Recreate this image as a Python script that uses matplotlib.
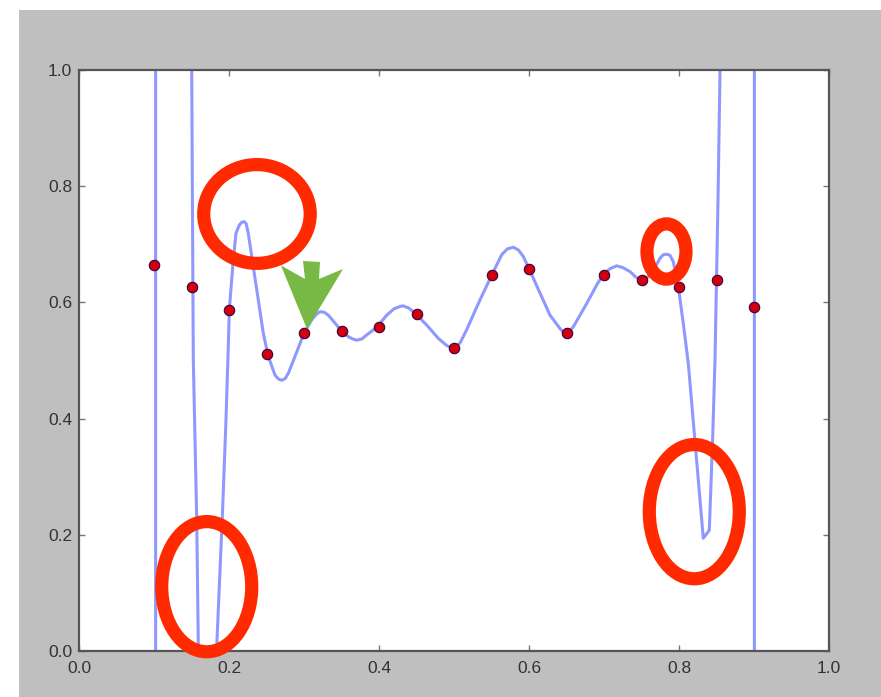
import matplotlib
matplotlib.use("Agg")
import matplotlib.pyplot as plt
from matplotlib.patches import Ellipse, Polygon, Rectangle

# sample points (red dots)
point_x = [0.10, 0.15, 0.20, 0.25, 0.30, 0.35, 0.40, 0.45, 0.50,
           0.55, 0.60, 0.65, 0.70, 0.75, 0.80, 0.85, 0.90]
point_y = [0.664, 0.626, 0.587, 0.512, 0.547, 0.550, 0.557, 0.580, 0.521,
           0.647, 0.657, 0.548, 0.647, 0.639, 0.627, 0.639, 0.592]

# fitted curve (values past 0 / 1 run off the axes)
curve_x = [0.1022, 0.1022, 0.148, 0.1503, 0.1524, 0.1569, 0.1591, 0.160, 0.181,
           0.1836, 0.1911, 0.196, 0.1993, 0.2004, 0.2057, 0.2093, 0.2137, 0.217,
           0.2204, 0.223, 0.2257, 0.2324, 0.2391, 0.2457, 0.2524, 0.2613, 0.266,
           0.2703, 0.275, 0.2791, 0.2880, 0.3000, 0.3103, 0.316, 0.3213, 0.327,
           0.3324, 0.3436, 0.3503, 0.3591, 0.365, 0.3703, 0.377, 0.3836, 0.3969,
           0.4103, 0.420, 0.4280, 0.4324, 0.440, 0.4493, 0.4636, 0.4791, 0.490,
           0.4991, 0.508, 0.5169, 0.5324, 0.5503, 0.5636, 0.571, 0.5791, 0.586,
           0.5924, 0.6004, 0.6147, 0.6280, 0.6413, 0.645, 0.6493, 0.654, 0.6591,
           0.6680, 0.6769, 0.6903, 0.6983, 0.708, 0.7169, 0.725, 0.7347, 0.742,
           0.7489, 0.756, 0.7636, 0.7747, 0.779, 0.7836, 0.788, 0.7924, 0.7991,
           0.8057, 0.8124, 0.8324, 0.8404, 0.8449, 0.8480, 0.8520, 0.8547, 0.857,
           0.9005, 0.9005]
curve_y = [-0.5, 1.5, 1.5, 0.999, 0.501, 0.231, 0.007, -0.5, -0.5,
           0.007, 0.231, 0.398, 0.535, 0.587, 0.673, 0.719, 0.733, 0.738,
           0.739, 0.735, 0.719, 0.661, 0.604, 0.547, 0.507, 0.475, 0.468,
           0.466, 0.469, 0.478, 0.507, 0.547, 0.570, 0.579, 0.584, 0.583,
           0.578, 0.561, 0.550, 0.541, 0.537, 0.535, 0.537, 0.544, 0.557,
           0.578, 0.589, 0.593, 0.594, 0.590, 0.580, 0.561, 0.538, 0.526,
           0.521, 0.530, 0.553, 0.598, 0.647, 0.682, 0.692, 0.695, 0.690,
           0.679, 0.657, 0.616, 0.578, 0.555, 0.550, 0.548, 0.550, 0.558,
           0.578, 0.598, 0.630, 0.647, 0.658, 0.663, 0.660, 0.653, 0.644,
           0.639, 0.641, 0.650, 0.676, 0.682, 0.683, 0.681, 0.670, 0.627,
           0.564, 0.495, 0.194, 0.208, 0.367, 0.501, 0.776, 0.999, 1.5,
           1.5, -0.5]

ticks = [0.0, 0.2, 0.4, 0.6, 0.8, 1.0]
tick_labels = ["0.0", "0.2", "0.4", "0.6", "0.8", "1.0"]

fig = plt.figure(figsize=(8.81, 6.97), dpi=100)
fig.patch.set_facecolor("white")
fig.patches.append(Rectangle((19 / 881, 0), 1, 687 / 697, transform=fig.transFigure,
                             facecolor="#bfbfbf", edgecolor="none", zorder=-10))

ax = fig.add_axes([79 / 881, 46 / 697, 750 / 881, 581 / 697])
ax.set_facecolor("white")

ax.plot(curve_x, curve_y, color="#3344ff", alpha=0.55, lw=2.2, zorder=2)
ax.plot(point_x, point_y, "o", color="#d0000f", mec="#3a0035", mew=0.8, ms=7.5, zorder=3)

ax.set_xlim(0, 1)
ax.set_ylim(0, 1)
ax.set_xticks(ticks)
ax.set_yticks(ticks)
ax.set_xticklabels(tick_labels, family="Liberation Sans", fontsize=12.5, color="#333333")
ax.set_yticklabels(tick_labels, family="Liberation Sans", fontsize=12.5, color="#333333")
ax.tick_params(direction="in", length=4, width=1, color="#777777",
               top=True, right=True)
ax.tick_params(axis="x", pad=7)
ax.tick_params(axis="y", pad=5)
for s in ax.spines.values():
    s.set_color("#555555")
    s.set_linewidth(1.6)

# red circles and green arrow drawn over the chart
red = "#ff2a00"
for cx, cy, w, h in [(0.2373, 0.7522, 0.142, 0.170),
                     (0.7833, 0.6876, 0.052, 0.095),
                     (0.1703, 0.1107, 0.120, 0.224),
                     (0.8204, 0.2398, 0.120, 0.231)]:
    ax.add_patch(Ellipse((cx, cy), w, h, fill=False, edgecolor=red, lw=9.5,
                         clip_on=False, zorder=5))

arrow = [(0.2987, 0.6713), (0.3213, 0.6695), (0.3200, 0.6403), (0.3520, 0.6575),
         (0.3040, 0.5542), (0.2693, 0.6635), (0.3013, 0.6403)]
ax.add_patch(Polygon(arrow, closed=True, facecolor="#78b844", edgecolor="none",
                     clip_on=False, zorder=6))

fig.savefig("out.png", dpi=100, facecolor=fig.get_facecolor())
